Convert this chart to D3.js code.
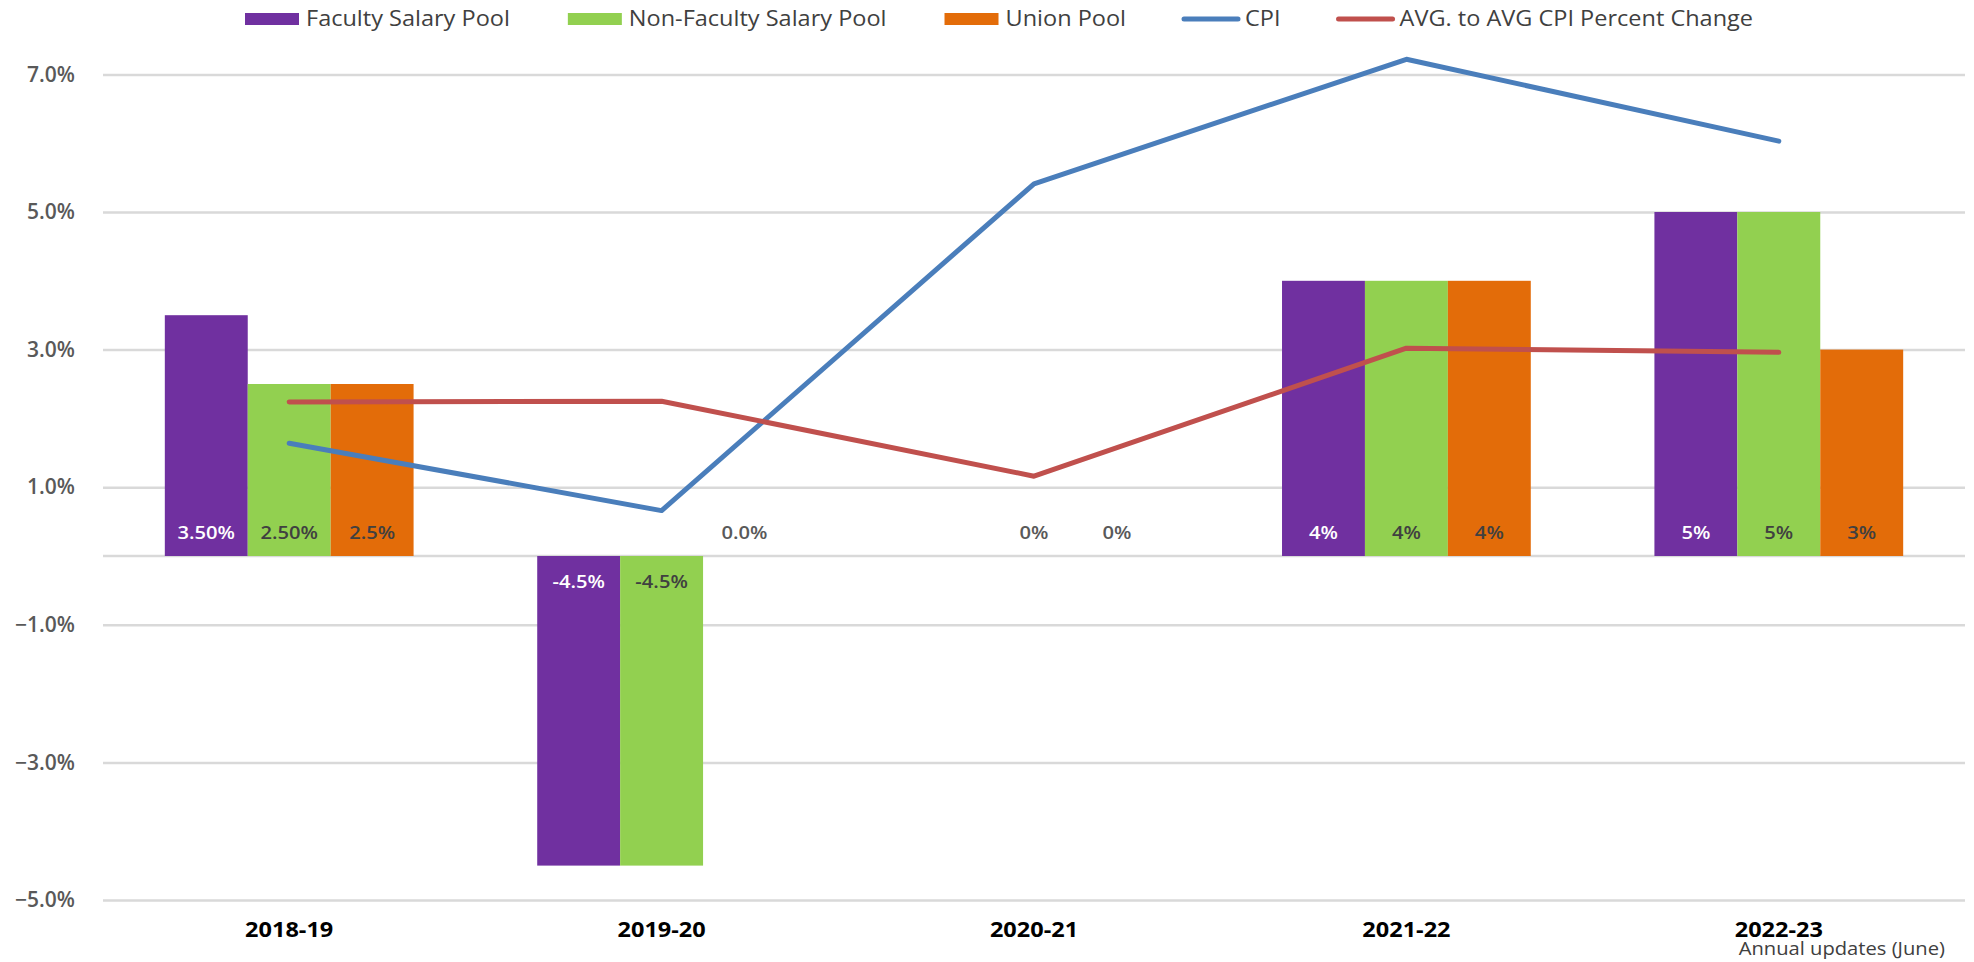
<!DOCTYPE html>
<html>
<head>
<meta charset="utf-8">
<script src="https://cdn.jsdelivr.net/npm/d3@7"></script>
<style>
  body { margin: 0; background: #ffffff; }
  svg { display: block; font-family: 'Open Sans', sans-serif; }
</style>
</head>
<body>
<svg id="canvas" width="1974" height="962"></svg>
<script>
let categories = ['2018-19', '2019-20', '2020-21', '2021-22', '2022-23']
let seriesNames = ['Faculty Salary Pool', 'Non-Faculty Salary Pool', 'Union Pool']
let lineNames = ['CPI', 'AVG. to AVG CPI Percent Change']

let facultyPool = [3.5, -4.5, null, 4, 5]
let nonFacultyPool = [2.5, -4.5, 0, 4, 5]
let unionPool = [2.5, 0, 0, 4, 3]

let facultyLabels = ['3.50%', '-4.5%', null, '4%', '5%']
let nonFacultyLabels = ['2.50%', '-4.5%', '0%', '4%', '5%']
let unionLabels = ['2.5%', '0.0%', '0%', '4%', '3%']

let cpi = [1.64, 0.66, 5.41, 7.22, 6.03]
let avgCpiChange = [2.24, 2.25, 1.16, 3.02, 2.96]

let yTicks = [-5, -3, -1, 1, 3, 5, 7]

let barColors = ['#7030a0', '#92d050', '#e36c09']
let lineColors = ['#4a7ebb', '#c0504d']
let labelColors = ['#ffffff', '#404040', '#404040']

let canvas = d3.select('#canvas')

// the original chart is a little wider than tall in its text, stretch glyphs a bit
let sx = 1.12
let stretch = (x, y) => 'translate(' + x + ',' + y + ') scale(' + sx + ',1)'

let left = 103
let right = 1965

let x0 = d3.scaleBand().domain(categories).range([left, right])
let bw = x0.bandwidth()
let x1 = d3.scaleBand().domain(seriesNames).range([bw * 0.166, bw * 0.834])

let y = d3.scaleLinear().domain([-5, 7]).range([900, 74.4])

// grid + y labels
let yAxis = canvas.append('g')
    .attr('transform', 'translate(' + left + ',0)')
    .call(d3.axisLeft(y)
        .tickValues(yTicks)
        .tickSize(-(right - left))
        .tickPadding(28)
        .tickFormat(d => d3.format('.1f')(d) + '%'))

yAxis.select('.domain').remove()
yAxis.selectAll('.tick line')
    .attr('stroke', '#d9d9d9')
    .attr('stroke-width', 2.5)
yAxis.selectAll('.tick text')
    .attr('fill', '#595959')
    .attr('font-size', 21)
    .attr('font-weight', 600)
    .attr('font-family', "'Open Sans', sans-serif")

canvas.append('line')
    .attr('x1', left)
    .attr('x2', right)
    .attr('y1', y(0))
    .attr('y2', y(0))
    .attr('stroke', '#d9d9d9')
    .attr('stroke-width', 2.5)

// bars
let barSeries = [facultyPool, nonFacultyPool, unionPool]
let barLabels = [facultyLabels, nonFacultyLabels, unionLabels]

let barData = []
seriesNames.forEach((name, i) => {
    categories.forEach((cat, j) => {
        barData.push({
            series: name,
            idx: i,
            category: cat,
            value: barSeries[i][j],
            label: barLabels[i][j]
        })
    })
})

canvas.append('g')
    .selectAll('rect')
    .data(barData.filter(d => d.value !== null && d.value !== 0))
    .enter()
    .append('rect')
    .attr('x', d => x0(d.category) + x1(d.series))
    .attr('y', d => y(Math.max(0, d.value)))
    .attr('width', x1.bandwidth())
    .attr('height', d => Math.abs(y(d.value) - y(0)))
    .attr('fill', d => barColors[d.idx])

canvas.append('g')
    .selectAll('text')
    .data(barData.filter(d => d.label !== null))
    .enter()
    .append('text')
    .attr('transform', d => {
        let cx = x0(d.category) + x1(d.series) + x1.bandwidth() / 2
        let cy = d.value < 0 ? y(0) + 26 : y(0) - 23
        return stretch(cx, cy)
    })
    .attr('dy', '0.35em')
    .attr('text-anchor', 'middle')
    .attr('font-size', 18)
    .attr('font-weight', 600)
    .attr('fill', d => d.value === 0 ? '#595959' : labelColors[d.idx])
    .text(d => d.label)

// lines
let lineSeries = [cpi, avgCpiChange]
let makeLine = d3.line()
    .x((d, i) => x0(categories[i]) + bw / 2)
    .y(d => y(d))

lineSeries.forEach((values, i) => {
    canvas.append('path')
        .datum(values)
        .attr('d', makeLine)
        .attr('fill', 'none')
        .attr('stroke', lineColors[i])
        .attr('stroke-width', 5)
        .attr('stroke-linejoin', 'round')
        .attr('stroke-linecap', 'round')
})

// x labels
canvas.append('g')
    .selectAll('text')
    .data(categories)
    .enter()
    .append('text')
    .attr('transform', d => stretch(x0(d) + bw / 2, 937))
    .attr('text-anchor', 'middle')
    .attr('font-size', 21)
    .attr('font-weight', 700)
    .attr('fill', '#000000')
    .text(d => d)

canvas.append('text')
    .attr('transform', stretch(1945, 955))
    .attr('text-anchor', 'end')
    .attr('font-size', 18)
    .attr('fill', '#404040')
    .text('Annual updates (June)')

// legend
let legendItems = seriesNames.map((name, i) => ({ name: name, color: barColors[i], type: 'bar' }))
    .concat(lineNames.map((name, i) => ({ name: name, color: lineColors[i], type: 'line' })))

let legendX = 245
legendItems.forEach(item => {
    let g = canvas.append('g').attr('transform', 'translate(' + legendX + ',19)')
    if (item.type === 'bar') {
        g.append('rect')
            .attr('x', 0)
            .attr('y', -6)
            .attr('width', 54)
            .attr('height', 12)
            .attr('fill', item.color)
    } else {
        g.append('line')
            .attr('x1', 0)
            .attr('x2', 54)
            .attr('y1', 0)
            .attr('y2', 0)
            .attr('stroke', item.color)
            .attr('stroke-width', 5)
            .attr('stroke-linecap', 'round')
    }
    let t = g.append('text')
        .attr('transform', stretch(61, 0))
        .attr('dy', '0.35em')
        .attr('font-size', 21)
        .attr('fill', '#404040')
        .text(item.name)
    legendX += 61 + t.node().getComputedTextLength() * sx + 58
})
</script>
</body>
</html>
